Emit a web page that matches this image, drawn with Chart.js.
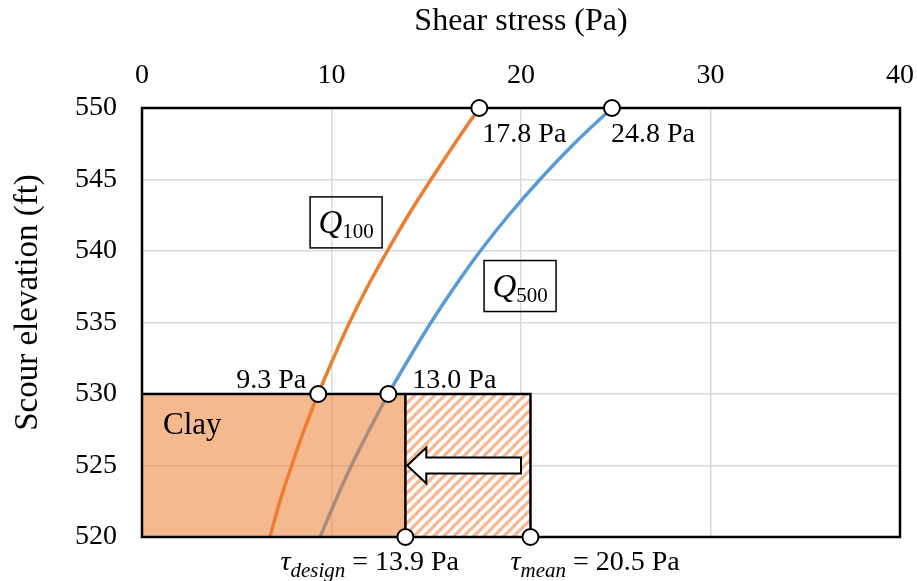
<!DOCTYPE html>
<html>
<head>
<meta charset="utf-8">
<title>Shear stress vs scour elevation</title>
<script src="https://cdn.jsdelivr.net/npm/chart.js@4.4.1/dist/chart.umd.min.js"></script>
<style>
  html, body { margin: 0; padding: 0; background: #fff; }
  #wrap { width: 917px; height: 581px; }
</style>
</head>
<body>
<div id="wrap"><canvas id="chart"></canvas></div>
<script>
// elevation (ft) and shear stress (Pa) along each flow curve
const elevations = [520, 522.5, 525, 527.5, 530, 532.5, 535, 537.5, 540, 542.5, 545, 547.5, 550];
const q100Stress = [6.75, 7.28, 7.9, 8.56, 9.3, 10.1, 10.95, 11.9, 12.95, 14.05, 15.25, 16.5, 17.8];
const q500Stress = [9.4, 10.2, 11.05, 12.0, 13.0, 14.1, 15.25, 16.5, 17.85, 19.35, 21.0, 22.8, 24.8];

// circled points
const markerStress = [17.8, 24.8, 9.3, 13.0, 13.9, 20.5];
const markerElev = [550, 550, 530, 530, 520, 520];

// clay layer and the design / mean stress band
const clayTop = 530;
const clayBottom = 520;
const tauDesign = 13.9;
const tauMean = 20.5;

// axis ticks
const xTicks = [0, 10, 20, 30, 40];
const yTicks = [520, 525, 530, 535, 540, 545, 550];

const SERIF = '"Liberation Serif", "Times New Roman", serif';
const ORANGE = '#ED7D31';
const BLUE = '#5B9BD5';

function toPoints(xs, ys) {
    return xs.map((v, i) => ({ x: v, y: ys[i] }));
}

// diagonal stripes for the band between design and mean stress
function hatchPattern(ctx) {
    const n = 10;
    const c = document.createElement('canvas');
    c.width = n; c.height = n;
    const g = c.getContext('2d');
    g.fillStyle = '#fff';
    g.fillRect(0, 0, n, n);
    g.strokeStyle = '#F7B690';
    g.lineWidth = 3.2;
    g.beginPath();
    g.moveTo(-2, n + 2); g.lineTo(n + 2, -2);
    g.moveTo(-2, 2); g.lineTo(2, -2);
    g.moveTo(n - 2, n + 2); g.lineTo(n + 2, n - 2);
    g.stroke();
    return ctx.createPattern(c, 'repeat');
}

// clay fill, hatched band, outlines and arrow; drawn over the curves, under the markers
function drawLayers(chart) {
    const { ctx, chartArea: a, scales: { x, y } } = chart;
    const x0 = x.getPixelForValue(x.min);
    const xd = x.getPixelForValue(tauDesign);
    const xm = x.getPixelForValue(tauMean);
    const yt = y.getPixelForValue(clayTop);
    const yb = y.getPixelForValue(clayBottom);

    ctx.save();
    ctx.fillStyle = 'rgba(237, 125, 49, 0.54)';
    ctx.fillRect(x0, yt, xd - x0, yb - yt);
    ctx.fillStyle = hatchPattern(ctx);
    ctx.fillRect(xd, yt, xm - xd, yb - yt);

    ctx.strokeStyle = '#000';
    ctx.lineWidth = 2.5;
    ctx.strokeRect(a.left, a.top, a.right - a.left, a.bottom - a.top);
    ctx.beginPath();
    ctx.moveTo(x0, yt); ctx.lineTo(xm, yt); ctx.lineTo(xm, yb);
    ctx.moveTo(xd, yt); ctx.lineTo(xd, yb);
    ctx.stroke();

    // block arrow pointing from the mean stress back to the design stress
    const tipX = x.getPixelForValue(14.0);
    const tailX = x.getPixelForValue(20.0);
    const ay = y.getPixelForValue(525);
    const headLen = 19, headHalf = 18, bodyHalf = 8;
    ctx.beginPath();
    ctx.moveTo(tipX, ay);
    ctx.lineTo(tipX + headLen, ay - headHalf);
    ctx.lineTo(tipX + headLen, ay - bodyHalf);
    ctx.lineTo(tailX, ay - bodyHalf);
    ctx.lineTo(tailX, ay + bodyHalf);
    ctx.lineTo(tipX + headLen, ay + bodyHalf);
    ctx.lineTo(tipX + headLen, ay + headHalf);
    ctx.closePath();
    ctx.fillStyle = '#fff';
    ctx.fill();
    ctx.lineWidth = 2;
    ctx.stroke();
    ctx.restore();
}

// text run made of pieces: [text, font, dy]
function drawRun(ctx, x, y, parts) {
    parts.forEach(([t, f, dy]) => {
        ctx.font = f;
        ctx.fillText(t, x, y + dy);
        x += ctx.measureText(t).width;
    });
}

function runWidth(ctx, parts) {
    return parts.reduce((w, [t, f]) => { ctx.font = f; return w + ctx.measureText(t).width; }, 0);
}

function boxedQ(ctx, cx, cy, sub) {
    const w = 72, h = 51;
    ctx.lineWidth = 1.5;
    ctx.strokeStyle = '#000';
    ctx.strokeRect(cx - w / 2, cy - h / 2, w, h);
    const parts = [['Q', 'italic 33px ' + SERIF, 0], [sub, '21px ' + SERIF, 5]];
    const tw = runWidth(ctx, parts);
    drawRun(ctx, cx - tw / 2, cy + 11, parts);
}

function drawLabels(chart) {
    const { ctx, scales: { x, y } } = chart;
    const px = i => x.getPixelForValue(markerStress[i]);
    const py = i => y.getPixelForValue(markerElev[i]);
    const val = i => markerStress[i].toFixed(1) + ' Pa';
    const big = '28px ' + SERIF;

    ctx.save();
    ctx.fillStyle = '#000';
    ctx.textBaseline = 'alphabetic';
    ctx.font = big;

    ctx.textAlign = 'left';
    ctx.fillText(val(0), px(0) + 3, py(0) + 34);
    ctx.fillText(val(1), px(1) - 1, py(1) + 34);
    ctx.fillText(val(3), px(3) + 24, py(3) - 6);
    ctx.textAlign = 'right';
    ctx.fillText(val(2), px(2) - 12, py(2) - 6);
    ctx.textAlign = 'left';

    const tau = (name, i) => [
        ['τ', 'italic 28px ' + SERIF, 0],
        [name, 'italic 21px ' + SERIF, 7],
        [' = ' + val(i), big, 0]
    ];
    drawRun(ctx, px(4) - 125, py(4) + 33, tau('design', 4));
    drawRun(ctx, px(5) - 20, py(5) + 33, tau('mean', 5));

    ctx.font = '31px ' + SERIF;
    ctx.fillText('Clay', x.getPixelForValue(x.min) + 21, y.getPixelForValue(clayTop) + 40);

    boxedQ(ctx, x.getPixelForValue(10.77), y.getPixelForValue(542.0), '100');
    boxedQ(ctx, x.getPixelForValue(19.95), y.getPixelForValue(537.55), '500');

    // vertical axis title, sitting a little above the middle of the axis
    ctx.translate(28, (chart.chartArea.top + chart.chartArea.bottom) / 2 - 20);
    ctx.rotate(-Math.PI / 2);
    ctx.textAlign = 'center';
    ctx.textBaseline = 'middle';
    ctx.font = '33px ' + SERIF;
    ctx.fillText('Scour elevation (ft)', 0, 0);
    ctx.restore();
}

const overlay = {
    id: 'overlay',
    beforeDatasetDraw(chart, args) {
        if (args.index === 0) drawLayers(chart);
    },
    afterDatasetsDraw(chart) {
        drawLabels(chart);
    }
};

const ctx = document.getElementById('chart').getContext('2d');
new Chart(ctx, {
    type: 'scatter',
    data: {
        datasets: [
            {
                label: 'points',
                data: toPoints(markerStress, markerElev),
                pointRadius: 8,
                pointHoverRadius: 8,
                pointBackgroundColor: '#fff',
                pointBorderColor: '#000',
                pointBorderWidth: 2,
                showLine: false,
                clip: false,
                order: 0
            },
            {
                label: 'Q100',
                data: toPoints(q100Stress, elevations),
                showLine: true,
                borderColor: ORANGE,
                borderWidth: 3.5,
                pointRadius: 0,
                tension: 0.4,
                order: 1
            },
            {
                label: 'Q500',
                data: toPoints(q500Stress, elevations),
                showLine: true,
                borderColor: BLUE,
                borderWidth: 3.5,
                pointRadius: 0,
                tension: 0.4,
                order: 2
            }
        ]
    },
    options: {
        responsive: true,
        maintainAspectRatio: false,
        animation: false,
        layout: { padding: { left: 0, top: 0, right: 17, bottom: 44 } },
        plugins: {
            legend: { display: false },
            tooltip: { enabled: false }
        },
        scales: {
            x: {
                type: 'linear',
                position: 'top',
                min: xTicks[0],
                max: xTicks[xTicks.length - 1],
                // fixed band height; the end labels may overhang into the page margin
                afterFit: s => { s.height = 108; s.paddingLeft = 0; s.paddingRight = 0; },
                ticks: {
                    stepSize: xTicks[1] - xTicks[0],
                    padding: 16,
                    color: '#000',
                    font: { family: SERIF, size: 28 }
                },
                grid: { color: '#d9d9d9', lineWidth: 1.5, drawTicks: false },
                border: { display: false },
                title: {
                    display: true,
                    text: 'Shear stress (Pa)',
                    color: '#000',
                    font: { family: SERIF, size: 32 },
                    padding: { top: 2, bottom: 0 }
                }
            },
            y: {
                type: 'linear',
                min: yTicks[0],
                max: yTicks[yTicks.length - 1],
                afterFit: s => { s.width = 142; },
                ticks: {
                    stepSize: yTicks[1] - yTicks[0],
                    padding: 25,
                    color: '#000',
                    font: { family: SERIF, size: 28 }
                },
                grid: { color: '#d9d9d9', lineWidth: 1.5, drawTicks: false },
                border: { display: false },
                title: { display: false }
            }
        }
    },
    plugins: [overlay]
});
</script>
</body>
</html>
